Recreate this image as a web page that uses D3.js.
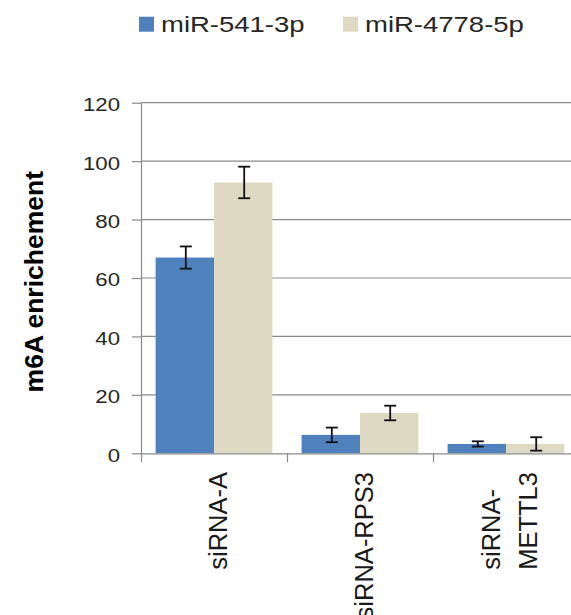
<!DOCTYPE html>
<html>
<head>
<meta charset="utf-8">
<script src="https://cdn.jsdelivr.net/npm/d3@7"></script>
<style>
  html, body { margin: 0; padding: 0; background: #fff; }
  svg { display: block; }
</style>
</head>
<body>
<svg id="chart" width="571" height="615"></svg>
<script>
// ---- data ----
const categories = ["siRNA-A", "siRNA-RPS3", "siRNA-METTL3"];
const categoryLabels = [["siRNA-A"], ["siRNA-RPS3"], ["siRNA-", "METTL3"]];
const seriesNames = ["miR-541-3p", "miR-4778-5p"];
const values541 = [67.0, 6.3, 3.2];
const errors541 = [3.8, 2.5, 0.9];
const values4778 = [92.7, 13.8, 3.2];
const errors4778 = [5.4, 2.5, 2.3];
const yTicks = [0, 20, 40, 60, 80, 100, 120];
const yLabel = "m6A enrichement";
const colors = ["#4f81bd", "#ddd9c3"];

const seriesValues = [values541, values4778];
const seriesErrors = [errors541, errors4778];

// ---- layout ----
const svg = d3.select("#chart");
const plotLeft = 141, plotRight = 579, plotTop = 102.7, plotBottom = 453.3;

const y = d3.scaleLinear().domain([0, 120]).range([plotBottom, plotTop]);
const x0 = d3.scaleBand().domain(categories).range([plotLeft, plotRight]).paddingInner(0).paddingOuter(0);
const x1 = d3.scaleBand().domain(seriesNames).range([0, x0.bandwidth()]).paddingInner(0).paddingOuter(0.25);
const xIdx = d3.scaleLinear().domain([0, categories.length]).range([plotLeft, plotRight]);

const gridColor = "#8a8a8a";

// gridlines
svg.append("g").selectAll("line")
  .data(yTicks.filter(d => d > 0))
  .join("line")
  .attr("x1", plotLeft).attr("x2", 571)
  .attr("y1", d => y(d)).attr("y2", d => y(d))
  .attr("stroke", gridColor).attr("stroke-width", 1.2);

// bars
const groups = svg.append("g").selectAll("g")
  .data(categories)
  .join("g")
  .attr("transform", d => `translate(${x0(d)},0)`);

groups.each(function(cat, ci) {
  const g = d3.select(this);
  seriesNames.forEach((s, si) => {
    const v = seriesValues[si][ci];
    g.append("rect")
      .attr("x", x1(s))
      .attr("y", y(v))
      .attr("width", x1.bandwidth())
      .attr("height", y(0) - y(v))
      .attr("fill", colors[si]);
  });
});

// error bars
groups.each(function(cat, ci) {
  const g = d3.select(this);
  seriesNames.forEach((s, si) => {
    const v = seriesValues[si][ci], e = seriesErrors[si][ci];
    const cx = x1(s) + x1.bandwidth() / 2 + 1;
    const eg = g.append("g").attr("stroke", "#111").attr("stroke-width", 1.8);
    eg.append("line").attr("x1", cx).attr("x2", cx).attr("y1", y(v + e)).attr("y2", y(v - e));
    eg.append("line").attr("x1", cx - 6).attr("x2", cx + 6).attr("y1", y(v + e)).attr("y2", y(v + e));
    eg.append("line").attr("x1", cx - 6).attr("x2", cx + 6).attr("y1", y(v - e)).attr("y2", y(v - e));
  });
});

// y axis
const yAxis = svg.append("g")
  .attr("transform", `translate(${plotLeft},0)`)
  .call(d3.axisLeft(y).tickValues(yTicks).tickSize(9).tickSizeOuter(0).tickPadding(12));
yAxis.select(".domain").attr("stroke", gridColor).attr("stroke-width", 1.2);
yAxis.selectAll(".tick line").attr("stroke", gridColor).attr("stroke-width", 1.2);
yAxis.selectAll(".tick text")
  .attr("x", null)
  .attr("dy", "0.43em")
  .attr("transform", "translate(-21,0) scale(1.2,1)")
  .attr("fill", "#262626")
  .style("font-family", "'Liberation Sans', Arial, sans-serif")
  .style("font-size", "18.5px");

// x axis (baseline + category boundary ticks)
const xAxis = svg.append("g")
  .attr("transform", `translate(0,${plotBottom})`)
  .call(d3.axisBottom(xIdx).tickValues(d3.range(categories.length + 1)).tickSize(9).tickSizeOuter(0).tickFormat(""));
xAxis.select(".domain").attr("stroke", gridColor).attr("stroke-width", 1.2);
xAxis.selectAll(".tick line").attr("stroke", gridColor).attr("stroke-width", 1.2);

// category labels (rotated)
const labelTop = 472;
const lineGap = 37;
categoryLabels.forEach((lines, ci) => {
  const cx = x0(categories[ci]) + x0.bandwidth() / 2;
  const t = svg.append("text")
    .attr("text-anchor", "start")
    .attr("fill", "#1a1a1a")
    .style("font-family", "'Liberation Sans', Arial, sans-serif")
    .style("font-size", "25.5px");
  const tspans = lines.map((ln, li) =>
    t.append("tspan").attr("x", 0).attr("y", (li - (lines.length - 1) / 2) * lineGap).text(ln));
  const maxW = d3.max(tspans, ts => ts.node().getComputedTextLength());
  t.attr("transform", `translate(${cx + 12.5},${labelTop + maxW}) rotate(-90)`);
});

// y label
svg.append("text")
  .attr("transform", `translate(43,${(166.7 + 396.7) / 2}) rotate(-90)`)
  .attr("text-anchor", "middle")
  .attr("fill", "#000")
  .style("font-family", "'Liberation Sans', Arial, sans-serif")
  .style("font-weight", "bold")
  .style("font-size", "26.5px")
  .text(yLabel);

// legend
const legendX = [139, 343];
const legend = svg.append("g");
seriesNames.forEach((s, si) => {
  legend.append("rect")
    .attr("x", legendX[si]).attr("y", 16.7)
    .attr("width", 15).attr("height", 15)
    .attr("fill", colors[si]);
  legend.append("text")
    .attr("transform", `translate(${legendX[si] + 22},31.7) scale(1.25,1)`)
    .attr("fill", "#262626")
    .style("font-family", "'Liberation Sans', Arial, sans-serif")
    .style("font-size", "22px")
    .text(s);
});
</script>
</body>
</html>
